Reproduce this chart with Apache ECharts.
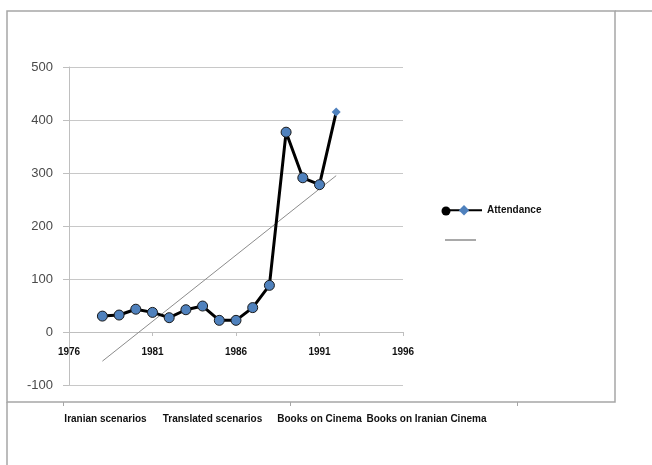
<!DOCTYPE html>
<html>
<head>
    <meta charset="utf-8">
    <title>Attendance</title>
    <script src="https://cdn.jsdelivr.net/npm/echarts@6/dist/echarts.min.js"></script>
</head>
<body style="margin:0;background:#fff;">
    <div id="main" style="width: 652px;height:465px;"></div>
</body>
<script type="text/javascript">
    // values
    var years = [1978, 1979, 1980, 1981, 1982, 1983, 1984, 1985, 1986, 1987, 1988, 1989, 1990, 1991, 1992];
    var attendance = [30, 32, 43, 37, 27, 42, 49, 22, 22, 46, 88, 377, 291, 278, 415];
    var trendYears = [1978, 1992];
    var trendValues = [-55, 295];
    var categories = ['Iranian scenarios', 'Translated scenarios', 'Books on Cinema', 'Books on Iranian Cinema'];

    var boldFont = {
        fontFamily: 'Liberation Sans',
        fontWeight: 'bold',
        fontSize: 10,
        color: '#111'
    };

    var lineData = years.map(function(y, i) {
        var item = { value: [y, attendance[i]] };
        if (i < years.length - 1) {
            item.symbol = 'circle';
            item.symbolSize = 10;
            item.itemStyle = { borderColor: '#1a1a1a', borderWidth: 1 };
        } else {
            item.symbol = 'diamond';
            item.symbolSize = 9;
        }
        return item;
    });
    var trendData = trendYears.map(function(y, i) {
        return [y, trendValues[i]];
    });

    var chart = echarts.init(document.getElementById('main'));
    chart.setOption({
        backgroundColor: '#fff',
        animation: false,
        graphic: [{
            type: 'rect',
            shape: { x: 7, y: 11, width: 608, height: 391 },
            style: { fill: 'none', stroke: '#a6a6a6', lineWidth: 1.5 },
            silent: true
        }, {
            type: 'line',
            shape: { x1: 7, y1: 402, x2: 7, y2: 465 },
            style: { stroke: '#a6a6a6', lineWidth: 1.5 },
            silent: true
        }, {
            type: 'line',
            shape: { x1: 615, y1: 11, x2: 652, y2: 11 },
            style: { stroke: '#a6a6a6', lineWidth: 1.5 },
            silent: true
        }, {
            // legend extras: black dot at the start of the key, trendline key
            type: 'circle',
            shape: { cx: 446, cy: 211, r: 4.5 },
            style: { fill: '#000' },
            z: 100,
            silent: true
        }, {
            type: 'line',
            shape: { x1: 445, y1: 240, x2: 476, y2: 240 },
            style: { stroke: '#8c8c8c', lineWidth: 1.5 },
            silent: true
        }],
        legend: {
            orient: 'vertical',
            left: 440,
            top: 200,
            itemWidth: 36,
            itemHeight: 13,
            itemGap: 5,
            textStyle: boldFont,
            data: ['Attendance']
        },
        grid: [
            { left: 69, right: 249, top: 67, bottom: 80 },
            { left: 63, right: 135, top: 402, bottom: 63 },
            { left: 52, right: 172, top: 402, bottom: 63 }
        ],
        xAxis: [{
            gridIndex: 0,
            type: 'value',
            position: 'bottom',
            offset: -53,
            min: 1976,
            max: 1996,
            interval: 5,
            axisLine: { onZero: false, lineStyle: { color: '#bfbfbf' } },
            axisTick: { show: true, length: 4, lineStyle: { color: '#bfbfbf' } },
            splitLine: { show: false },
            axisLabel: Object.assign({
                margin: 15,
                formatter: function(v) { return String(v); }
            }, boldFont)
        }, {
            gridIndex: 1,
            type: 'category',
            data: categories,
            axisLine: { show: false },
            axisTick: { show: true, length: 4, lineStyle: { color: '#a6a6a6' } },
            axisLabel: { show: false }
        }, {
            gridIndex: 2,
            type: 'category',
            data: categories,
            axisLine: { show: false },
            axisTick: { show: false },
            axisLabel: Object.assign({ margin: 12, interval: 0 }, boldFont)
        }],
        yAxis: [{
            gridIndex: 0,
            type: 'value',
            min: -100,
            max: 500,
            interval: 100,
            axisLine: { show: true, lineStyle: { color: '#bfbfbf' } },
            axisTick: { show: true, length: 6, lineStyle: { color: '#bfbfbf' } },
            splitLine: { lineStyle: { color: '#c8c8c8', width: 1.2 } },
            axisLabel: { fontFamily: 'Liberation Sans', fontSize: 13, color: '#4a4a4a', margin: 16 }
        }, {
            gridIndex: 1, type: 'value', show: false
        }, {
            gridIndex: 2, type: 'value', show: false
        }],
        series: [{
            name: 'Attendance',
            type: 'line',
            xAxisIndex: 0,
            yAxisIndex: 0,
            symbol: 'diamond',
            symbolSize: 9,
            lineStyle: { color: '#000', width: 3 },
            itemStyle: { color: '#4f81bd' },
            data: lineData,
            z: 3
        }, {
            name: 'trend',
            type: 'line',
            xAxisIndex: 0,
            yAxisIndex: 0,
            symbol: 'none',
            lineStyle: { color: '#8c8c8c', width: 1 },
            data: trendData,
            z: 2
        }]
    });
</script>
</html>
